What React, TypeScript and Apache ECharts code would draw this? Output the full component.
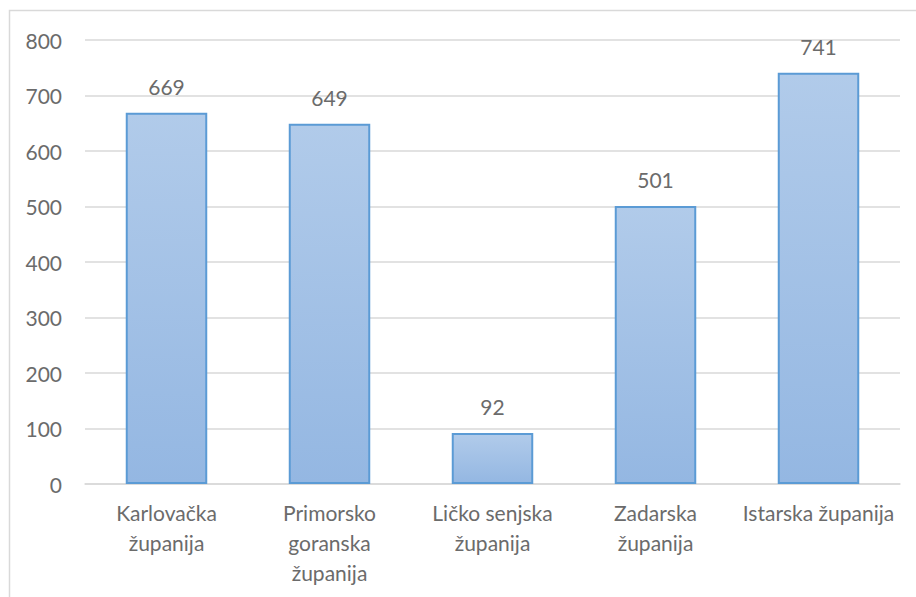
import React, { useEffect, useRef } from "react";
import * as echarts from "echarts";

const categories = [
  "Karlovačka\nžupanija",
  "Primorsko\ngoranska\nžupanija",
  "Ličko senjska\nžupanija",
  "Zadarska\nžupanija",
  "Istarska županija",
];
const values = [669, 649, 92, 501, 741];
const yTicks = { min: 0, max: 800, interval: 100 };

const FONT = "Lato, 'Open Sans', sans-serif";
const TEXT = "#6b6b6b";

export default function App() {
  const ref = useRef<HTMLDivElement>(null);
  useEffect(() => {
    document.body.style.margin = "0";
    const chart = echarts.init(ref.current!, null, { renderer: "svg" });
    chart.setOption({
      animation: false,
      backgroundColor: "#ffffff",
      textStyle: { fontFamily: FONT },
      graphic: [
        {
          type: "rect",
          shape: { x: 9.5, y: 10.5, width: 1000, height: 700 },
          style: { fill: "none", stroke: "#d9d9d9", lineWidth: 1.5 },
          silent: true,
        },
      ],
      grid: { left: 85, right: 16, top: 40, bottom: 113, containLabel: false },
      xAxis: {
        type: "category",
        data: categories,
        axisLine: { show: true, lineStyle: { color: "#d9d9d9", width: 1.5 } },
        axisTick: { show: false },
        axisLabel: {
          color: TEXT,
          fontSize: 21,
          fontFamily: FONT,
          lineHeight: 30,
          margin: 13,
          interval: 0,
        },
      },
      yAxis: {
        type: "value",
        min: yTicks.min,
        max: yTicks.max,
        interval: yTicks.interval,
        axisLine: { show: false },
        axisTick: { show: false },
        splitLine: { lineStyle: { color: "#d9d9d9", width: 1.5 } },
        axisLabel: { color: TEXT, fontSize: 21, fontFamily: FONT, margin: 23 },
      },
      series: [
        {
          type: "bar",
          data: values,
          barWidth: "50%",
          itemStyle: {
            color: new echarts.graphic.LinearGradient(0, 0, 0, 1, [
              { offset: 0, color: "#b1cbea" },
              { offset: 1, color: "#94b7e2" },
            ]),
            borderColor: "#5b9bd5",
            borderWidth: 2,
          },
          label: {
            show: true,
            position: "top",
            distance: 16,
            color: TEXT,
            fontSize: 21,
            fontFamily: FONT,
          },
        },
      ],
    });
    return () => chart.dispose();
  }, []);
  return (
    <div
      ref={ref}
      style={{ position: "absolute", left: 0, top: 0, width: 916, height: 597 }}
    />
  );
}
